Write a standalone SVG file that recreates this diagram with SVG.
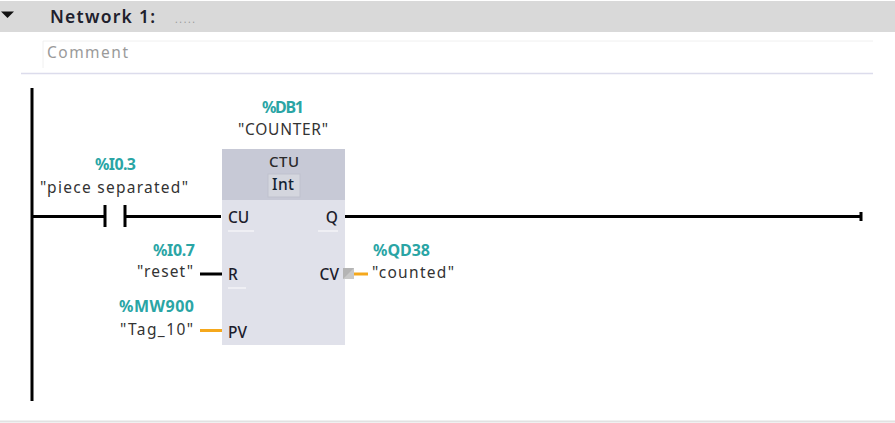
<svg xmlns="http://www.w3.org/2000/svg" width="895" height="423" viewBox="0 0 895 423">
<style>
text{font-family:"Noto Sans","Open Sans","DejaVu Sans",sans-serif;fill:#2a2a2a;font-size:15px}
.addr{fill:#2aa5a5;font-weight:700;font-size:16px;text-anchor:start}
.tag{font-size:15.500px;fill:#333;text-anchor:start}
.pin{font-size:15.500px;fill:#1c1c2c;font-weight:500}
.w{stroke:#000;stroke-width:3;fill:none}
.y{stroke:#f5a81c;stroke-width:3;fill:none}
.u{stroke:#f4f4f8;stroke-width:1.500;fill:none}
</style>
<rect width="895" height="423" fill="#fff"/>
<g id="header">
<rect x="0" y="1" width="895" height="31" fill="#d9d9d9"/>
<path d="M1 11.500H14L7.500 18Z" fill="#111"/>
<text x="50" y="23" style="font-size:17.500px;font-weight:600;fill:#20202c" textLength="105">Network 1:</text>
<text x="175" y="23" style="font-size:10px;fill:#999" textLength="20">.....</text>
</g>
<g id="comment">
<path d="M43 68V41H873" fill="none" stroke="#f0f0f0" stroke-width="1"/>
<text x="47" y="58" style="font-size:15.500px;fill:#9a9a9a" textLength="81">Comment</text>
<path d="M21 73.500H873" stroke="#dcdcec" stroke-width="1.500"/>
<path d="M0 421.500H895" stroke="#e2e2e2" stroke-width="2"/>
</g>
<g id="connectors">
<path class="w" d="M32 88V401"/>
<path class="w" d="M32 216.500H105M105 205V227M125 205V227M125 216.500H221"/>
<path class="w" d="M345 216.500H861M861 212V221"/>
<path class="w" d="M200 274H222"/>
<path class="y" d="M200 330.500H222"/>
<path class="y" d="M354 274H368"/>
</g>
<g id="ctu">
<rect x="222" y="149" width="123" height="196" fill="#e0e1ea"/>
<rect x="222" y="149" width="123" height="51" fill="#c7c9d6"/>
<rect x="268" y="174" width="32" height="23" fill="#d4d6de" stroke="#c0c2ce"/>
<text x="269" y="167" style="font-size:15px;font-weight:500" textLength="30">CTU</text>
<text x="272" y="190" style="font-size:15.500px;font-weight:500;fill:#123" textLength="22">Int</text>
<text class="pin" x="228" y="223">CU</text>
<text class="pin" x="338" y="223" text-anchor="end">Q</text>
<text class="pin" x="228" y="280">R</text>
<text class="pin" x="339" y="280" text-anchor="end">CV</text>
<text class="pin" x="228" y="338">PV</text>
<path class="u" d="M228 231H254M318 231H338M228 288H246"/>
<rect x="343" y="268" width="11" height="11" fill="#b4b4b4"/>
<path d="M343 279L354 268V279Z" fill="#c8c8c8"/>
</g>
<g id="db"><text class="addr" x="262" y="113" textLength="42">%DB1</text><text class="tag" x="238" y="135" textLength="90">"COUNTER"</text></g>
<g id="contact"><text class="addr" x="95" y="170" textLength="41">%I0.3</text><text class="tag" x="40" y="193" textLength="148">"piece separated"</text></g>
<g id="reset"><text class="addr" x="153" y="256" textLength="42">%I0.7</text><text class="tag" x="137" y="277" textLength="56">"reset"</text></g>
<g id="tag10"><text class="addr" x="119" y="312" textLength="75">%MW900</text><text class="tag" x="120" y="335" textLength="73">"Tag_10"</text></g>
<g id="counted"><text class="addr" x="373" y="256" textLength="57">%QD38</text><text class="tag" x="372" y="278" textLength="82">"counted"</text></g>
</svg>
